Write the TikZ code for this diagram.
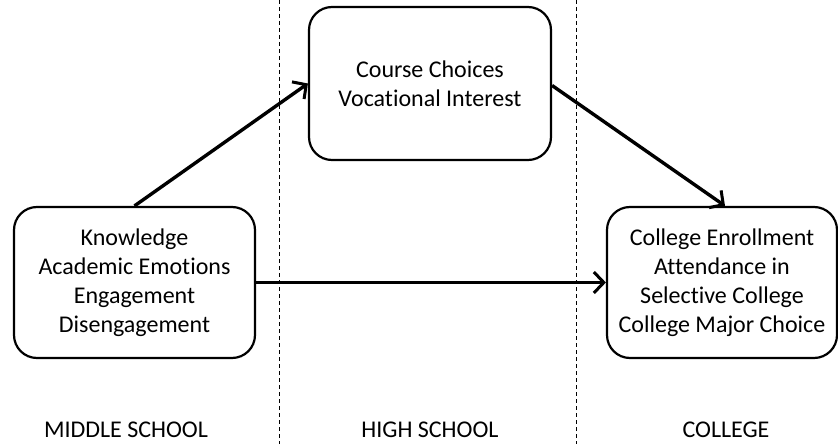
\documentclass[tikz,border=0pt]{standalone}
\usepackage{fontspec}
\setmainfont{Carlito}[Ligatures={NoCommon}]
\usetikzlibrary{arrows.meta}
\begin{document}
\begin{tikzpicture}[x=1pt,y=-1pt,
  box/.style={draw, line width=2.2pt, rounded corners=23pt, align=center, font=\fontsize{24}{29}\selectfont, inner sep=0pt},
  conn/.style={line width=3.4pt, -{Straight Barb[length=10pt,width=21pt,line width=3pt]}},
  divider/.style={line width=0.8pt, dash pattern=on 4pt off 3pt},
  stage/.style={font=\fontsize{24}{29}\selectfont, anchor=base}]
\useasboundingbox (0,0) rectangle (838,444);
\coordinate (d1t) at (279,0); \coordinate (d1b) at (279,444);
\coordinate (d2t) at (576,0); \coordinate (d2b) at (576,444);
\draw[divider] (d1t) -- (d1b);
\draw[divider] (d2t) -- (d2b);
\node[box, minimum width=241pt, minimum height=151pt] (ms) at (134.5,282.5) {Knowledge\\Academic Emotions\\Engagement\\Disengagement};
\node[box, minimum width=242pt, minimum height=153pt] (hs) at (430,83.5) {Course Choices\\Vocational Interest};
\node[box, minimum width=230pt, minimum height=151pt] (co) at (722,282.5) {College Enrollment\\Attendance in\\Selective College\\College Major Choice};
\draw[conn] (ms.north) -- (hs.west);
\draw[conn] ([yshift=-2pt]hs.east) -- ([xshift=3pt]co.north);
\draw[conn] (ms.east) -- (co.west);
\node[stage] (l1) at (126,437) {MIDDLE SCHOOL};
\node[stage] (l2) at (430,437) {HIGH SCHOOL};
\node[stage] (l3) at (726,437) {COLLEGE};
\end{tikzpicture}
\end{document}
